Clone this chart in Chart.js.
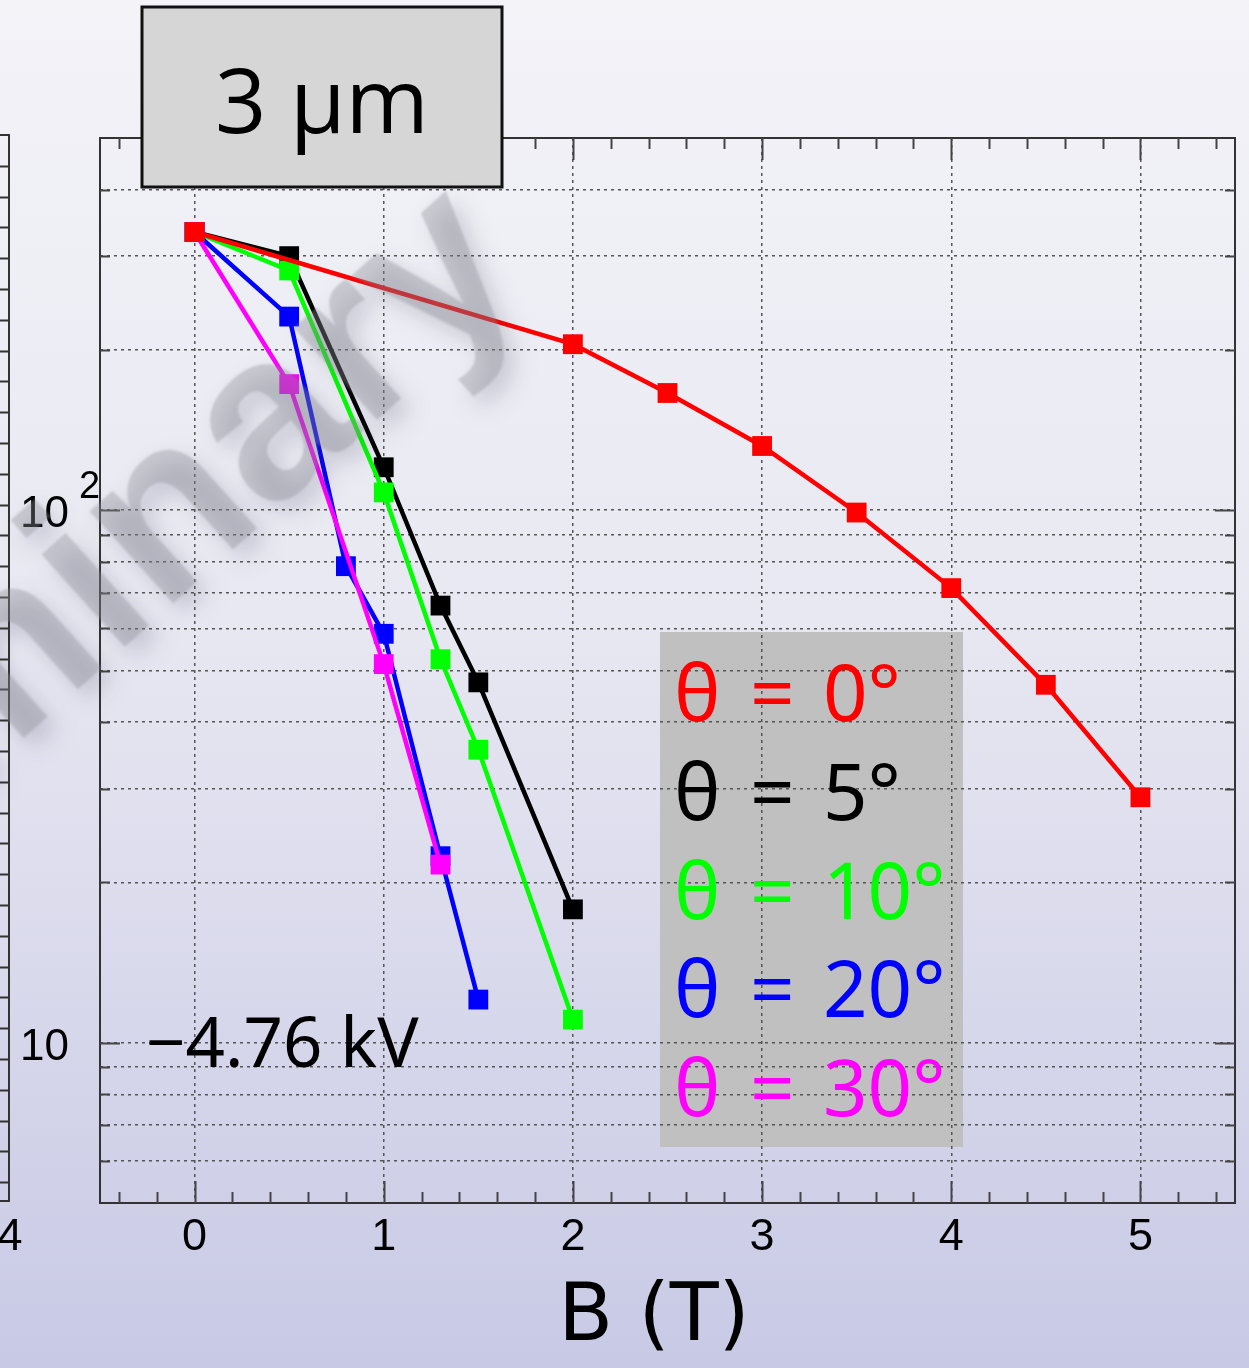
<!DOCTYPE html>
<html>
<head>
<meta charset="utf-8">
<script src="https://cdn.jsdelivr.net/npm/chart.js@4.4.1/dist/chart.umd.min.js"></script>
<style>
  html, body { margin: 0; padding: 0; background: #e6e6f1; }
  #wrap { position: relative; width: 1249px; height: 1368px; }
</style>
</head>
<body>
<div id="wrap"><canvas id="chart" width="1249" height="1368"></canvas></div>
<script>
// B scan for the 3 um sample at -4.76 kV, one curve per tilt angle
const xTicks = [0, 1, 2, 3, 4, 5];
const yGrid = [6, 7, 8, 9, 10, 20, 30, 40, 50, 60, 70, 80, 90, 100, 200, 300, 400];
const yLabels = [{ value: 10, base: '10', exp: '' }, { value: 100, base: '10', exp: '2' }];

const bTheta0 = [0, 2, 2.5, 3, 3.5, 4, 4.5, 5];
const theta0 = [333, 205, 166, 132, 99, 71.4, 47, 28.9];

const bTheta5 = [0, 0.5, 1, 1.3, 1.5, 2];
const theta5 = [333, 300, 120.4, 66.2, 47.5, 17.8];

const bTheta10 = [0, 0.5, 1, 1.3, 1.5, 2];
const theta10 = [333, 282, 108, 52.5, 35.5, 11.05];

const bTheta20 = [0, 0.5, 0.8, 1, 1.3, 1.5];
const theta20 = [333, 231, 78.5, 58.6, 22.4, 12.05];

const bTheta30 = [0, 0.5, 1, 1.3];
const theta30 = [333, 172.5, 51.4, 21.6];

const angleLabels = ['0°', '5°', '10°', '20°', '30°'];
const colors = ['#ff0000', '#000000', '#00ff00', '#0000ff', '#ff00ff'];
const bValues = [bTheta0, bTheta5, bTheta10, bTheta20, bTheta30];
const yValues = [theta0, theta5, theta10, theta20, theta30];
// red on top, black at the bottom
const drawOrder = [0, 4, 3, 2, 1];

const datasets = angleLabels.map((a, i) => ({
    label: 'θ = ' + a,
    data: bValues[i].map((b, j) => ({ x: b, y: yValues[i][j] })),
    borderColor: colors[i],
    backgroundColor: colors[i],
    pointBackgroundColor: colors[i],
    borderWidth: 4.5,
    pointStyle: 'rect',
    pointRadius: 14,
    pointHoverRadius: 14,
    pointBorderWidth: 0,
    tension: 0,
    order: drawOrder[i]
}));

function text(ctx, str, x, y, font, color, align) {
    ctx.font = font;
    ctx.fillStyle = color;
    ctx.textAlign = align || 'left';
    ctx.textBaseline = 'alphabetic';
    ctx.fillText(str, x, y);
}

const decor = {
    id: 'decor',
    beforeDraw(chart) {
        const { ctx, width, height } = chart;
        ctx.save();
        const g = ctx.createLinearGradient(0, 0, 0, height);
        g.addColorStop(0, '#f3f3f8');
        g.addColorStop(0.45, '#e8e8f2');
        g.addColorStop(1, '#c8c9e5');
        ctx.fillStyle = g;
        ctx.fillRect(0, 0, width, height);
        // legend panel sits under the grid
        ctx.fillStyle = '#c0c0c0';
        ctx.fillRect(660, 632, 303, 515);
        ctx.restore();
    },
    afterDraw(chart) {
        const { ctx, chartArea: a, scales: { x, y } } = chart;
        ctx.save();

        // frame
        ctx.strokeStyle = '#333';
        ctx.lineWidth = 2;
        ctx.strokeRect(a.left, a.top, a.right - a.left, a.bottom - a.top);

        // x ticks, top and bottom
        ctx.strokeStyle = '#444';
        ctx.beginPath();
        for (let k = -2; k <= 27; k++) {
            const px = Math.round(x.getPixelForValue(k / 5)) + 0.5;
            const len = k % 5 === 0 ? 22 : 11;
            ctx.moveTo(px, a.bottom); ctx.lineTo(px, a.bottom - len);
            ctx.moveTo(px, a.top); ctx.lineTo(px, a.top + len);
        }
        // y ticks, left and right
        for (const dec of [1, 10, 100]) {
            for (let m = 1; m <= 9; m++) {
                const v = m * dec;
                if (v <= 5 || v >= 500) continue;
                const py = Math.round(y.getPixelForValue(v)) + 0.5;
                const len = m === 1 ? 20 : 10;
                ctx.moveTo(a.left, py); ctx.lineTo(a.left + len, py);
                ctx.moveTo(a.right, py); ctx.lineTo(a.right - len, py);
            }
        }
        ctx.stroke();

        // tick labels
        xTicks.forEach(v => text(ctx, String(v), x.getPixelForValue(v), a.bottom + 47, '45px "Liberation Sans"', '#000', 'center'));
        yLabels.forEach(l => {
            const py = y.getPixelForValue(l.value);
            text(ctx, l.base, 20, py + 17, '44px "Liberation Sans"', '#000');
            if (l.exp) text(ctx, l.exp, 79, py - 12, '38px "Liberation Sans"', '#000');
        });

        // axis title
        text(ctx, 'B (T)', 654, 1340, '80px "DejaVu Sans"', '#000', 'center');

        // edge of the neighbouring panel
        ctx.strokeStyle = '#333';
        ctx.lineWidth = 2;
        ctx.beginPath();
        ctx.moveTo(0, 135); ctx.lineTo(9, 135); ctx.lineTo(9, 1201); ctx.lineTo(0, 1201);
        for (let py = 165.8; py < 1200; py += 30.8) {
            ctx.moveTo(0, Math.round(py) + 0.5); ctx.lineTo(9, Math.round(py) + 0.5);
        }
        ctx.stroke();
        text(ctx, '4', 10, 1250, '45px "Liberation Sans"', '#000', 'center');

        // sample label box
        ctx.fillStyle = '#d6d6d6';
        ctx.fillRect(142, 7, 360, 180);
        ctx.strokeStyle = '#111';
        ctx.lineWidth = 3;
        ctx.strokeRect(142, 7, 360, 180);
        text(ctx, '3 μm', 322, 133, '90px "Open Sans"', '#000', 'center');

        // bias voltage
        text(ctx, '−4.76 kV', 146, 1067, '69px "Noto Sans"', '#000');

        // legend entries
        angleLabels.forEach((lab, i) => {
            const base = 721 + i * 98.8;
            const f = '78px "Noto Sans"';
            text(ctx, 'θ', 674, base, f, colors[i]);
            text(ctx, '=', 750, base, f, colors[i]);
            text(ctx, lab, 823, base, f, colors[i]);
        });

        // watermark
        ctx.translate(530, 282);
        ctx.rotate(-42 * Math.PI / 180);
        ctx.font = 'bold 235px "Liberation Sans"';
        ctx.textAlign = 'right';
        ctx.filter = 'blur(1px)';
        ctx.shadowColor = 'rgba(40,40,70,0.5)';
        ctx.shadowBlur = 22;
        ctx.shadowOffsetX = 10;
        ctx.shadowOffsetY = 10;
        ctx.fillStyle = 'rgba(140,140,150,0.36)';
        ctx.fillText('Preliminary', 0, 0);

        ctx.restore();
    }
};

new Chart(document.getElementById('chart'), {
    type: 'line',
    data: { datasets },
    options: {
        responsive: false,
        animation: false,
        devicePixelRatio: 1,
        layout: { padding: { left: 100, top: 138, right: 14, bottom: 165 } },
        plugins: { legend: { display: false }, tooltip: { enabled: false } },
        scales: {
            x: {
                type: 'linear',
                min: -0.5,
                max: 5.5,
                afterBuildTicks: s => { s.ticks = xTicks.map(v => ({ value: v })); },
                ticks: { display: false },
                grid: { color: '#555', lineWidth: 1.5, drawTicks: false },
                border: { display: false, dash: [3, 4] }
            },
            y: {
                type: 'logarithmic',
                min: 5,
                max: 500,
                afterBuildTicks: s => { s.ticks = yGrid.map(v => ({ value: v })); },
                ticks: { display: false },
                grid: { color: '#555', lineWidth: 1.5, drawTicks: false },
                border: { display: false, dash: [3, 4] }
            }
        }
    },
    plugins: [decor]
});
</script>
</body>
</html>
